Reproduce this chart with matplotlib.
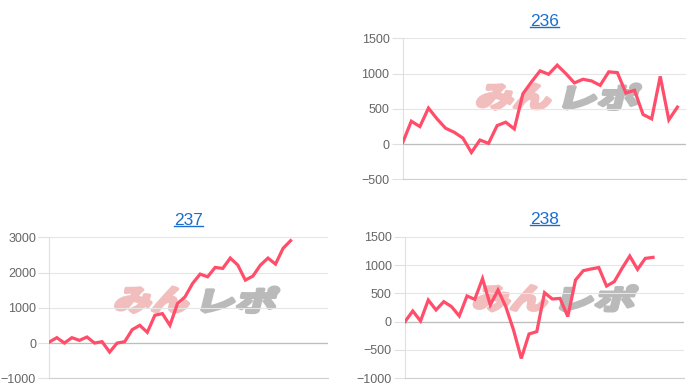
import matplotlib
matplotlib.use("Agg")
import matplotlib.pyplot as plt
import matplotlib.transforms as mtransforms
from matplotlib.textpath import TextPath
from matplotlib.patches import PathPatch
from matplotlib.font_manager import FontProperties
from matplotlib.lines import Line2D

plt.rcParams['font.family'] = ['Liberation Sans', 'DejaVu Sans']

# data
titles = ["236", "237", "238"]
vals_236 = [20, 324, 248, 510, 357, 224, 167, 86, -119, 57, 10, 262, 310, 214, 714, 881,
            1038, 990, 1119, 1000, 867, 919, 895, 833, 1024, 1014, 724, 762, 419, 357, 960, 343, 524]
vals_237 = [28, 152, 0, 152, 76, 171, 0, 38, -256, 0, 38, 380, 503, 304, 788, 835,
            503, 1120, 1310, 1690, 1956, 1880, 2146, 2117, 2411, 2212, 1785, 1899, 2212, 2411, 2240, 2687, 2905]
vals_238 = [0, 188, 12, 382, 206, 353, 265, 100, 453, 394, 760, 294, 559, 265, -147, -650,
            -218, -176, 512, 400, 410, 90, 735, 900, 930, 955, 629, 706, 941, 1158, 923, 1117, 1135]
n_labels = [33, 37, 36]
yticks_236 = [-500, 0, 500, 1000, 1500]
yticks_237 = [-1000, 0, 1000, 2000, 3000]
yticks_238 = [-1000, -500, 0, 500, 1000, 1500]

LINE = '#ff4d6a'
GRID = '#e6e6e6'
LINK = '#1a6ed0'


def add_watermark(ax, x, y):
    fp = FontProperties(family='Noto Sans CJK JP', weight='bold')
    for txt, color, dx in [('みん', '#f2bdbd', 0), ('レポ', '#bababa', 87)]:
        tp = TextPath((0, 0), txt, size=1, prop=fp)
        bb = tp.get_extents()
        tr = (mtransforms.Affine2D().translate(-bb.x0, -bb.y0)
              .scale(72 / bb.width, 25 / bb.height).skew_deg(14, 0).translate(dx + 1, 1)
              + mtransforms.ScaledTranslation(x, y, ax.transAxes))
        ax.add_patch(PathPatch(tp, transform=tr, fc=color, ec=color, lw=2.6,
                               joinstyle='round', zorder=1, clip_on=False))


def draw(ax, title, vals, nlab, yticks, wm):
    ax.plot(range(len(vals)), vals, color=LINE, lw=2.3, zorder=3, solid_joinstyle='miter')
    ax.set_xlim(0, nlab)
    ax.set_ylim(yticks[0], yticks[-1])
    ax.set_yticks(yticks)
    ax.set_xticks([])
    ax.grid(axis='y', color=GRID, lw=0.8)
    ax.axhline(0, color='#bdbdbd', lw=0.9, zorder=2)
    for s in ['top', 'right']:
        ax.spines[s].set_visible(False)
    ax.spines['left'].set_color('#e0e0e0')
    ax.spines['bottom'].set_color('#cfcfcf')
    ax.tick_params(axis='y', length=8, width=0.8, color='#e0e0e0', pad=1.5,
                   labelsize=9, labelcolor='#666666')
    ax.set_title(title, color=LINK, fontsize=12.5, pad=9)
    add_watermark(ax, *wm)


fig = plt.figure(figsize=(7, 3.92), dpi=100)
ax1 = fig.add_axes([0.5753, 0.5426, 0.4047, 0.3597])
ax2 = fig.add_axes([0.0704, 0.035, 0.3986, 0.3596])
ax3 = fig.add_axes([0.5786, 0.035, 0.3986, 0.3612])

draw(ax1, titles[0], vals_236, n_labels[0], yticks_236, (0.255, 0.49))
draw(ax2, titles[1], vals_237, n_labels[1], yticks_237, (0.229, 0.461))
draw(ax3, titles[2], vals_238, n_labels[2], yticks_238, (0.239, 0.47))

# underline the link-style titles
fig.canvas.draw()
r = fig.canvas.get_renderer()
for ax in [ax1, ax2, ax3]:
    bb = ax.title.get_window_extent(r)
    yy = bb.y0 + 2
    fig.add_artist(Line2D([bb.x0, bb.x1], [yy, yy], transform=None, color=LINK, lw=1.0))

fig.savefig("out.png", dpi=100)
